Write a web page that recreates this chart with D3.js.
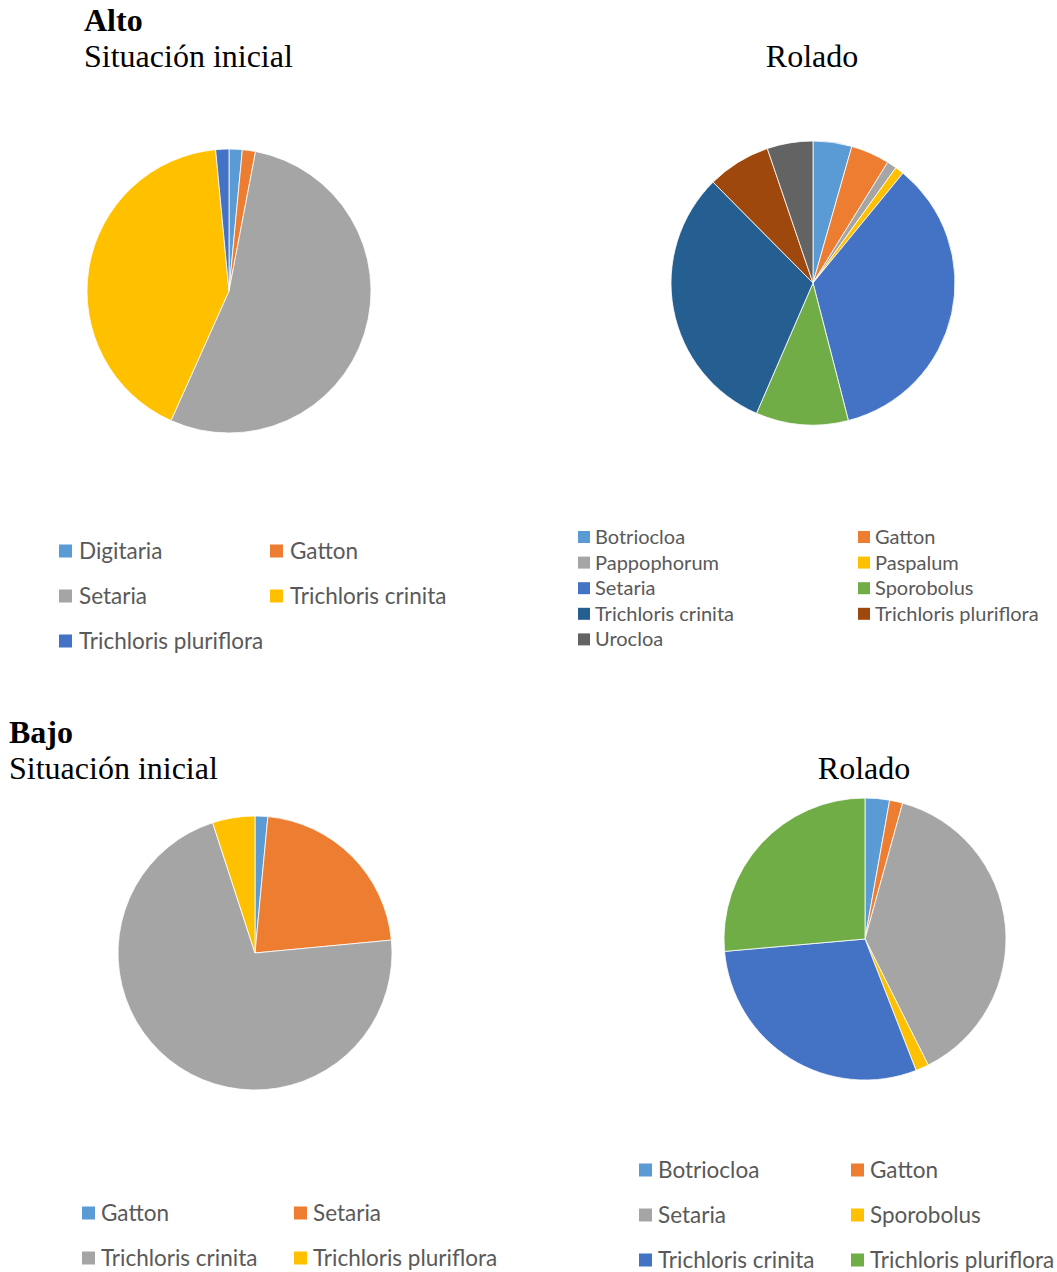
<!DOCTYPE html>
<html>
<head>
<meta charset="utf-8">
<script src="https://cdn.jsdelivr.net/npm/d3@7"></script>
<style>
  html, body { margin: 0; padding: 0; background: #fff; }
  svg { display: block; }
</style>
</head>
<body>
<svg id="chart" width="1057" height="1272"></svg>
<script>
// Species composition (%) per site and treatment
const altoInicialSpecies = ["Digitaria", "Gatton", "Setaria", "Trichloris crinita", "Trichloris pluriflora"];
const altoInicialValues  = [1.5, 1.5, 53.7, 41.8, 1.5];

const altoRoladoSpecies = ["Botriocloa", "Gatton", "Pappophorum", "Paspalum", "Setaria", "Sporobolus",
                           "Trichloris crinita", "Trichloris pluriflora", "Urocloa"];
const altoRoladoValues  = [4.4, 4.4, 1.1, 1.0, 35.0, 10.5, 31.0, 7.2, 5.2];

const bajoInicialSpecies = ["Gatton", "Setaria", "Trichloris crinita", "Trichloris pluriflora"];
const bajoInicialValues  = [1.5, 22.0, 71.5, 5.0];

const bajoRoladoSpecies = ["Botriocloa", "Gatton", "Setaria", "Sporobolus", "Trichloris crinita", "Trichloris pluriflora"];
const bajoRoladoValues  = [2.8, 1.5, 38.3, 1.5, 29.5, 26.4];

// Office-style series palette, assigned in series order
const palette = ["#5B9BD5", "#ED7D31", "#A5A5A5", "#FFC000", "#4472C4", "#70AD47", "#255E91", "#9E480E", "#636363"];

const svg = d3.select("#chart");

// Headings
const serif = "'Liberation Serif', 'Times New Roman', serif";
function heading(x, y, text, opts = {}) {
  svg.append("text")
    .attr("x", x).attr("y", y)
    .attr("font-family", serif)
    .attr("font-size", 32)
    .attr("font-weight", opts.bold ? "bold" : "normal")
    .attr("text-anchor", opts.anchor || "start")
    .attr("fill", "#000")
    .text(text);
}
heading(84, 31, "Alto", { bold: true });
heading(84, 67, "Situación inicial");
heading(812, 67, "Rolado", { anchor: "middle" });
heading(9, 743, "Bajo", { bold: true });
heading(9, 779, "Situación inicial");
heading(864, 779, "Rolado", { anchor: "middle" });

function drawPie(cfg) {
  const data = cfg.species.map((s, i) => ({ name: s, value: cfg.values[i] }));
  const color = d3.scaleOrdinal().domain(cfg.species).range(palette);
  const pie = d3.pie().sort(null).value(d => d.value);
  const arc = d3.arc().innerRadius(0).outerRadius(cfg.r);

  const g = svg.append("g").attr("transform", `translate(${cfg.cx},${cfg.cy})`);
  g.selectAll("path")
    .data(pie(data))
    .join("path")
    .attr("d", arc)
    .attr("fill", d => color(d.data.name))
    .attr("stroke", "#fff")
    .attr("stroke-width", 0.8);

  // Legend: two columns, row-major
  const lg = svg.append("g");
  const items = lg.selectAll("g")
    .data(cfg.species)
    .join("g")
    .attr("transform", (d, i) => {
      const col = i % 2, row = Math.floor(i / 2);
      return `translate(${cfg.lx + col * cfg.colW},${cfg.ly + row * cfg.rowH})`;
    });
  items.append("rect")
    .attr("x", 0).attr("y", -cfg.box / 2)
    .attr("width", cfg.box).attr("height", cfg.box)
    .attr("fill", d => color(d));
  items.append("text")
    .attr("x", cfg.box + cfg.gap)
    .attr("y", 0)
    .attr("dy", "0.35em")
    .attr("font-family", "Lato, 'Open Sans', sans-serif")
    .attr("font-size", cfg.fs)
    .attr("fill", "#595959")
    .text(d => d);
}

drawPie({ species: altoInicialSpecies, values: altoInicialValues,
          cx: 229, cy: 291, r: 142,
          lx: 59, ly: 551, colW: 211, rowH: 45, box: 13, gap: 7, fs: 22.5 });

drawPie({ species: altoRoladoSpecies, values: altoRoladoValues,
          cx: 813, cy: 283, r: 142,
          lx: 578, ly: 537, colW: 280, rowH: 25.6, box: 12, gap: 5, fs: 20 });

drawPie({ species: bajoInicialSpecies, values: bajoInicialValues,
          cx: 255, cy: 953, r: 137,
          lx: 82, ly: 1213, colW: 212, rowH: 45, box: 13, gap: 6, fs: 22.5 });

drawPie({ species: bajoRoladoSpecies, values: bajoRoladoValues,
          cx: 865, cy: 939, r: 141,
          lx: 639, ly: 1170, colW: 212, rowH: 45, box: 13, gap: 6, fs: 22.5 });
</script>
</body>
</html>
